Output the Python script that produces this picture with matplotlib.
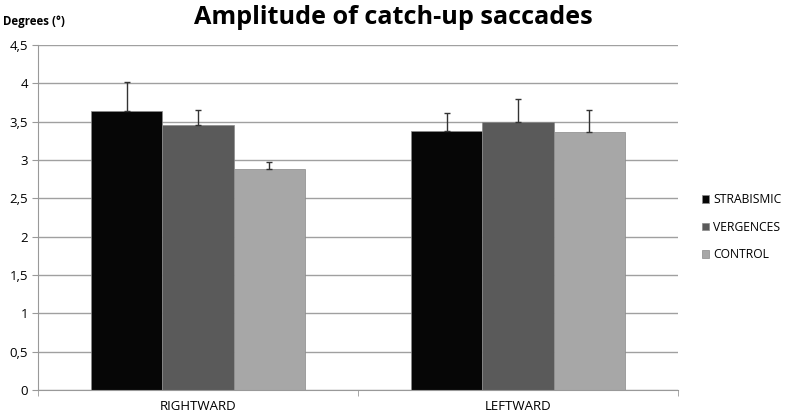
import numpy as np
import matplotlib
matplotlib.use("Agg")
import matplotlib.pyplot as plt

# data
directions = ["RIGHTWARD", "LEFTWARD"]
groups = ["STRABISMIC", "VERGENCES", "CONTROL"]
strabismic = [3.64, 3.38]
vergences = [3.455, 3.49]
control = [2.88, 3.37]
strabismic_err = [0.38, 0.23]
vergences_err = [0.195, 0.30]
control_err = [0.09, 0.28]
colors = ["#060606", "#5a5a5a", "#a7a7a7"]

plt.rcParams['font.family'] = ['Open Sans', 'DejaVu Sans']

fig = plt.figure(figsize=(7.86, 4.16), dpi=100)
ax = fig.add_axes([0.0483, 0.0625, 0.8143, 0.8293])

x = np.arange(len(directions))
w = 1 / 4.5
values = [strabismic, vergences, control]
errors = [strabismic_err, vergences_err, control_err]
for i in range(3):
    ax.bar(x + (i - 1) * w, values[i], w, color=colors[i], label=groups[i],
           edgecolor="#8a8a8a", linewidth=0.5, zorder=2)
    ax.errorbar(x + (i - 1) * w, values[i],
                yerr=[np.zeros(len(x)), errors[i]],
                fmt="none", ecolor="#333333", elinewidth=1, capsize=2.5,
                capthick=1, zorder=3)

ax.set_xlim(-0.5, 1.5)
ax.set_ylim(0, 4.5)
yt = np.arange(0, 4.51, 0.5)
ax.set_yticks(yt)
ax.set_yticklabels([("%g" % v).replace(".", ",") for v in yt], fontsize=9.5)
ax.set_xticks(x)
ax.set_xticklabels(directions, fontsize=9.5)
ax.set_xticks([-0.5, 0.5, 1.5], minor=True)
ax.tick_params(axis="x", which="major", length=0, pad=7)
ax.tick_params(axis="x", which="minor", length=4, color="#999999")
ax.tick_params(axis="y", length=4, color="#999999", pad=3)
ax.yaxis.grid(True, color="#a0a0a0", linewidth=1, zorder=0)
ax.set_axisbelow(True)
for s in ["top", "right"]:
    ax.spines[s].set_visible(False)
ax.spines["left"].set_color("#999999")
ax.spines["bottom"].set_color("#999999")

fig.text(0.5, 0.958, "Amplitude of catch-up saccades", ha="center", va="center",
         fontsize=18.2, fontweight="bold")
fig.text(0.004, 0.948, "Degrees (°)", ha="left", va="center",
         fontsize=8.3, fontweight="bold")

ax.legend(loc="center left", bbox_to_anchor=(1.02, 0.472), frameon=False,
          fontsize=8.7, handlelength=0.6, handleheight=0.6, handletextpad=0.35,
          labelspacing=1.2)

fig.savefig("out.png", dpi=100)
